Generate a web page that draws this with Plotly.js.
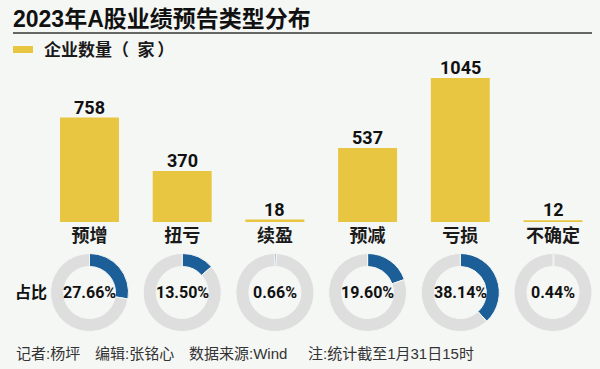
<!DOCTYPE html>
<html>
<head>
<meta charset="utf-8">
<script src="https://cdn.plot.ly/plotly-3.0.1.min.js"></script>
<style>
html,body{margin:0;padding:0;background:#f5f7f5;}
#chart{width:600px;height:369px;}
</style>
</head>
<body>
<div id="chart"></div>
<script>
// ---- data ----
const categories = ['预增', '扭亏', '续盈', '预减', '亏损', '不确定'];
const companyCounts = [758, 370, 18, 537, 1045, 12];
const shares = [27.66, 13.50, 0.66, 19.60, 38.14, 0.44];
const shareLabels = ['27.66%', '13.50%', '0.66%', '19.60%', '38.14%', '0.44%'];
const titleText = '2023年A股业绩预告类型分布';
const legendText = '企业数量（\u2002家\u2006）';
const shareLabel = '占比';
const footerTexts = ['记者:杨坪', '编辑:张铭心', '数据来源:Wind', '注:统计截至1月31日15时'];

// ---- layout helpers ----
const W = 600, H = 369;
const px = x => x / W;
const py = y => 1 - y / H;
const YELLOW = '#e9c642', BLUE = '#1b5e98', GRAY = '#dedede', BG = '#f5f7f5';
const CJK = '"Liberation Sans", "Noto Sans CJK SC", sans-serif';
const CJK_ONLY = '"Noto Sans CJK SC", sans-serif';
const NUM = 'Roboto, "Liberation Sans", sans-serif';

const xd0 = 43.15, xd1 = 599.35;
const step = (xd1 - xd0) / categories.length;
const baseY = 222, yMax = 1100, pxPerUnit = 144 / 1045;
const topY = baseY - yMax * pxPerUnit;

const traces = [{
  type: 'bar',
  x: categories,
  y: companyCounts,
  marker: {color: YELLOW},
  width: 0.636,
  hoverinfo: 'x+y',
  showlegend: false
}];

const pieCY = 292.5, pieR = 39;
const annotations = [];
shares.forEach((s, i) => {
  const cx = xd0 + (i + 0.5) * step;
  traces.push({
    type: 'pie',
    values: [s, 100 - s],
    labels: ['占比', '其他'],
    sort: false,
    direction: 'clockwise',
    rotation: 0,
    hole: 0.667,
    textinfo: 'none',
    marker: {colors: [BLUE, GRAY], line: {color: BG, width: 1}},
    domain: {x: [px(cx - pieR), px(cx + pieR)], y: [py(pieCY + pieR), py(pieCY - pieR)]},
    showlegend: false,
    hoverinfo: 'none'
  });
  annotations.push({
    text: shareLabels[i], x: px(cx), y: py(pieCY - 0.5), xref: 'paper', yref: 'paper',
    xanchor: 'center', yanchor: 'middle', showarrow: false,
    font: {family: NUM, size: 16, color: '#111', weight: 'bold'}
  });
});

annotations.push(
  {text: legendText, x: px(42), y: py(48.5), xref: 'paper', yref: 'paper', xanchor: 'left', yanchor: 'middle',
   showarrow: false, font: {family: CJK_ONLY, size: 17, color: '#1a1a1a', weight: 'bold'}},
  {text: shareLabel, x: px(13), y: py(292), xref: 'paper', yref: 'paper', xanchor: 'left', yanchor: 'middle',
   showarrow: false, font: {family: CJK, size: 16, color: '#111', weight: 'bold'}}
);
companyCounts.forEach((v, i) => annotations.push({
  text: String(v), x: categories[i], y: v, xref: 'x', yref: 'y', xanchor: 'center', yanchor: 'bottom',
  yshift: -2, showarrow: false,
  font: {family: NUM, size: 18, color: '#111', weight: 'bold'}
}));
const footerX = [14, 93, 187, 306];
footerTexts.forEach((t, i) => annotations.push({
  text: t, x: px(footerX[i]), y: py(353), xref: 'paper', yref: 'paper', xanchor: 'left', yanchor: 'middle',
  showarrow: false, font: {family: CJK, size: 15, color: '#333'}
}));

const layout = {
  width: W, height: H,
  margin: {l: 0, r: 0, t: 0, b: 0},
  paper_bgcolor: BG,
  plot_bgcolor: 'rgba(0,0,0,0)',
  title: {text: titleText, x: px(13), xanchor: 'left', xref: 'container',
          y: py(19), yanchor: 'middle', yref: 'container',
          font: {family: CJK, size: 23, color: '#111', weight: 'bold'}},
  xaxis: {type: 'category', range: [-0.5, 5.5], domain: [px(xd0), px(xd1)],
          showgrid: false, zeroline: false, showline: false, ticks: '',
          ticklabelstandoff: 1,
          tickfont: {family: CJK, size: 18, color: '#1a1a1a', weight: 'bold'}, fixedrange: true},
  yaxis: {range: [0, yMax], domain: [py(baseY), py(topY)], visible: false, fixedrange: true},
  shapes: [
    {type: 'line', xref: 'paper', yref: 'paper', x0: px(13), x1: px(592), y0: py(33), y1: py(33),
     line: {color: '#666', width: 2}},
    {type: 'rect', xref: 'paper', yref: 'paper', x0: px(13), x1: px(33), y0: py(53), y1: py(46),
     fillcolor: YELLOW, line: {width: 0}}
  ],
  annotations: annotations,
  showlegend: false
};

Plotly.newPlot('chart', traces, layout, {displayModeBar: false, staticPlot: true});
</script>
</body>
</html>
